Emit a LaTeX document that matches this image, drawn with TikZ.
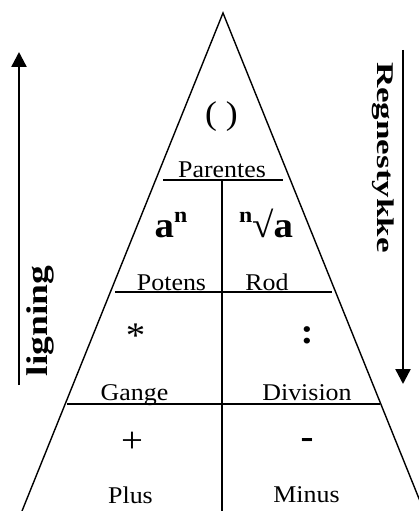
\documentclass[tikz,border=0pt]{standalone}
\usepackage{fontspec}
\setmainfont{Liberation Serif}
\usetikzlibrary{arrows.meta}
\tikzset{
  lbl/.style={anchor=base, inner sep=0pt, xscale=1.08, font=\fontsize{24}{28}\selectfont},
  sym/.style={anchor=base, inner sep=0pt, xscale=1.08, font=\fontsize{36}{40}\selectfont},
  fed/.style={anchor=base, inner sep=0pt, xscale=1.08, font=\bfseries\fontsize{36}{40}\selectfont},
  side/.style={anchor=base, inner sep=0pt, font=\bfseries\fontsize{#1}{#1}\selectfont},
  streg/.style={line width=1.4pt},
  pil/.style={line width=2.4pt, -{Triangle[length=15pt,width=15pt]}}
}
\newcommand{\opn}{\raisebox{15pt}{\fontsize{22}{22}\selectfont n}}
\begin{document}
\begin{tikzpicture}[x=1pt,y=-1pt]
\useasboundingbox (0,0) rectangle (419,511);
\clip (0,0) rectangle (419,511);
% trekanten
\coordinate (top) at (223,13);
\coordinate (vb) at (22,511);
\coordinate (hb) at (424,511);
\draw[streg, line join=miter] (vb) -- (top) -- (hb);
\draw[streg] (163,180) -- (283,180);
\draw[streg] (115,292) -- (332,292);
\draw[streg] (67,404) -- (380,404);
\draw[streg] (222,180) -- (222,511);
% felter
\node[sym, font=\fontsize{33}{36}\selectfont] (par) at (221.5,124) {( )};
\node[lbl] (parl) at (222,177) {Parentes};
\node[fed] (pot) at (171,237) {a\opn};
\node[fed] (rod) at (266,237) {\opn√a};
\node[lbl] (potl) at (171.5,290) {Potens};
\node[lbl] (rodl) at (267,290) {Rod};
\node[sym] (gan) at (135.5,347) {*};
\node[fed] (div) at (307,343) {:};
\node[lbl] (ganl) at (134.5,400) {Gange};
\node[lbl] (divl) at (307,400) {Division};
\node[sym] (plu) at (132,452) {+};
\node[fed] (min) at (307,448) {-};
\node[lbl] (plul) at (130.5,503) {Plus};
\node[lbl] (minl) at (306.5,502) {Minus};
% pilene
\coordinate (lb) at (19,385);
\coordinate (lt) at (19,52);
\draw[pil] (lb) -- (lt);
\node[side=30, rotate=90, xscale=1.25] (lig) at (47,321) {ligning};
\coordinate (ht) at (403,50);
\coordinate (hn) at (403,384);
\draw[pil] (ht) -- (hn);
\node[side=24, rotate=-90, xscale=1.46] (reg) at (377,157.5) {Regnestykke};
\end{tikzpicture}
\end{document}
